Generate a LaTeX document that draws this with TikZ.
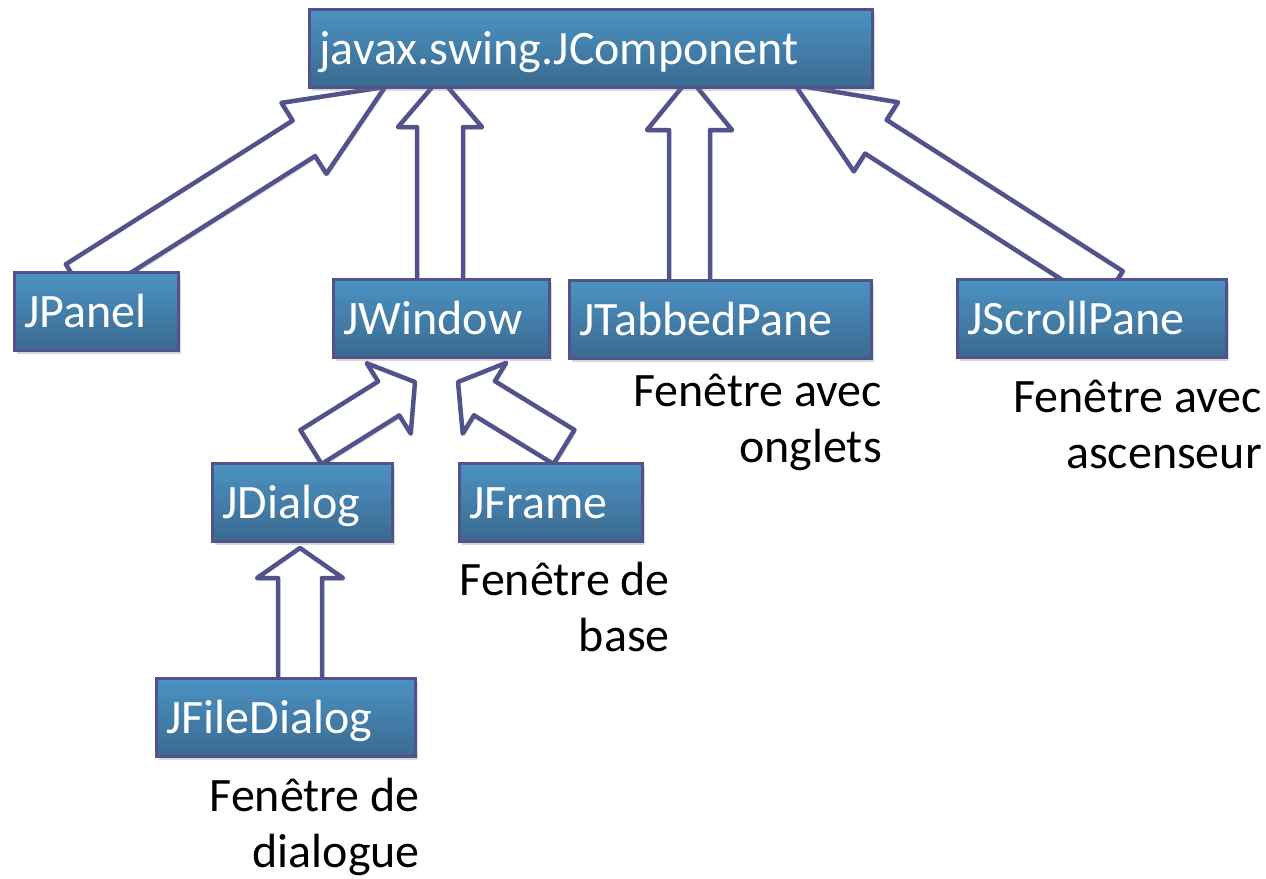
\documentclass[tikz,border=0pt]{standalone}
\usepackage{fontspec}
\setmainfont{Carlito}
\usetikzlibrary{calc,shadows}
\definecolor{edgec}{RGB}{82,82,140}
\definecolor{boxtop}{RGB}{76,146,194}
\definecolor{boxbot}{RGB}{58,106,144}
\tikzset{
  box/.style={draw=edgec, line width=3pt, top color=boxtop, bottom color=boxbot,
    text=white, anchor=north west, inner xsep=10pt, inner ysep=0pt,
    minimum height=78pt, text height=38pt, text depth=6pt, align=left,
    font=\fontsize{48}{56}\selectfont,
    drop shadow={shadow xshift=2pt, shadow yshift=-3pt, opacity=0.3}},
  blk/.style={draw=edgec, fill=white, line width=4.5pt, line join=round,
    drop shadow={shadow xshift=2pt, shadow yshift=-3pt, opacity=0.2}},
  lbl/.style={align=right, anchor=base east, inner sep=0pt,
    font=\fontsize{48}{56}\selectfont}
}
% #1 tail, #2 tip, #3 half shaft width, #4 half head width, #5 head length
\newcommand\blockarrow[5]{%
  \coordinate (ba-x) at ($#2!#5!#1$);
  \draw[blk] ($#1!#3!90:#2$) -- ($(ba-x)!#3!-90:#1$) -- ($(ba-x)!#4!-90:#1$)
    -- #2 -- ($(ba-x)!#4!90:#1$) -- ($(ba-x)!#3!90:#1$) -- ($#1!#3!-90:#2$) -- cycle;}
\begin{document}
\begin{tikzpicture}[x=1pt,y=-1pt]
\fill[white] (0,0) rectangle (1266,878);
\useasboundingbox (0,0) rectangle (1266,878);

% arrow end points
\coordinate (t1) at (77,282);   \coordinate (h1) at (385,87);
\coordinate (t2) at (440,290);  \coordinate (h2) at (440,78);
\coordinate (t3) at (689.5,290);\coordinate (h3) at (689.5,78);
\coordinate (t4) at (1112,288); \coordinate (h4) at (795,85);
\coordinate (t5) at (311,447);  \coordinate (h5) at (415,382);
\coordinate (t6) at (564,447);  \coordinate (h6) at (458,382);
\coordinate (t7) at (300,690);  \coordinate (h7) at (300,548);

\blockarrow{(t1)}{(h1)}{21pt}{42pt}{96pt}
\blockarrow{(t2)}{(h2)}{23pt}{42pt}{49pt}
\blockarrow{(t3)}{(h3)}{20.5pt}{42.5pt}{52pt}
\blockarrow{(t4)}{(h4)}{20pt}{41pt}{96pt}
\blockarrow{(t5)}{(h5)}{20pt}{41.5pt}{31pt}
\blockarrow{(t6)}{(h6)}{20pt}{41.5pt}{31pt}
\blockarrow{(t7)}{(h7)}{22pt}{43pt}{30pt}

% boxes
\node[box, text width=543pt] (comp) at (308,8) {javax.swing.JComponent};
\node[box, text width=144pt] (panel) at (13,271) {JPanel};
\node[box, text width=196pt] (window) at (332,278) {JWindow};
\node[box, text width=282pt] (tabbed) at (568,279) {JTabbedPane};
\node[box, text width=249pt] (scroll) at (956,278) {JScrollPane};
\node[box, text width=160pt] (dialog) at (211,462) {JDialog};
\node[box, text width=163pt] (frame) at (458,462) {JFrame};
\node[box, text width=239pt] (filedlg) at (155,677) {JFileDialog};

% labels (anchor = baseline of last line)
\node[lbl] (l1) at (882,462) {Fenêtre avec\\onglets};
\node[lbl] (l2) at (1262,468) {Fenêtre avec\\ascenseur};
\node[lbl] (l3) at (670,651) {Fenêtre de\\base};
\node[lbl] (l4) at (420,867) {Fenêtre de\\dialogue};
\end{tikzpicture}
\end{document}
